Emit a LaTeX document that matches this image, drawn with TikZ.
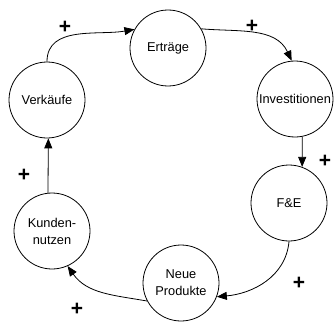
\documentclass[tikz,border=0pt]{standalone}
\usepackage{fontspec}
\setmainfont{Liberation Sans}
\usepackage{tikz}
\usetikzlibrary{arrows.meta}
\tikzstyle{factor}=[draw,circle,line width=0.8,minimum size=76,inner sep=0,align=center,font=\fontsize{12.8}{17}\selectfont]
\tikzstyle{sign}=[inner sep=0,font=\fontsize{21}{21}\selectfont\bfseries]
\tikzstyle{link}=[line width=0.8,>={Triangle[length=10,width=8]}]

\begin{document}
\begin{tikzpicture}[x=1pt,y=-1pt]
\useasboundingbox (0,0) rectangle (334,321);
	\node[factor] (ve) at (47,100) {Verkäufe};
	\node[factor] (er) at (168,48) {Erträge};
	\node[factor] (in) at (295,99) {Investitionen};
	\node[factor] (fe) at (289,203) {F\&E};
	\node[factor] (ne) at (181,283) {Neue\\Produkte};
	\node[factor] (ku) at (52,231) {Kunden-\\nutzen};

	\node[sign] (p1) at (65,27) {+};
	\node[sign] (p2) at (252,26) {+};
	\node[sign] (p3) at (325,161) {+};
	\node[sign] (p4) at (299,283) {+};
	\node[sign] (p5) at (77,309) {+};
	\node[sign] (p6) at (24,175) {+};

	\path[link,->] (ve.north) edge [out=90, in=190] (er.151);
	\path[link,->] (er.30) edge [out=-5, in=115] (in.95);
	\draw[link,->] (in.-79) -- (fe.70);
	\path[link,->] (fe.south) edge [out=-95, in=5] (ne.-21);
	\path[link,->] (ne.208) edge [out=170, in=-55] (ku.-66);
	\draw[link,->] (ku.96) -- (ve.-88);
\end{tikzpicture}
\end{document}
